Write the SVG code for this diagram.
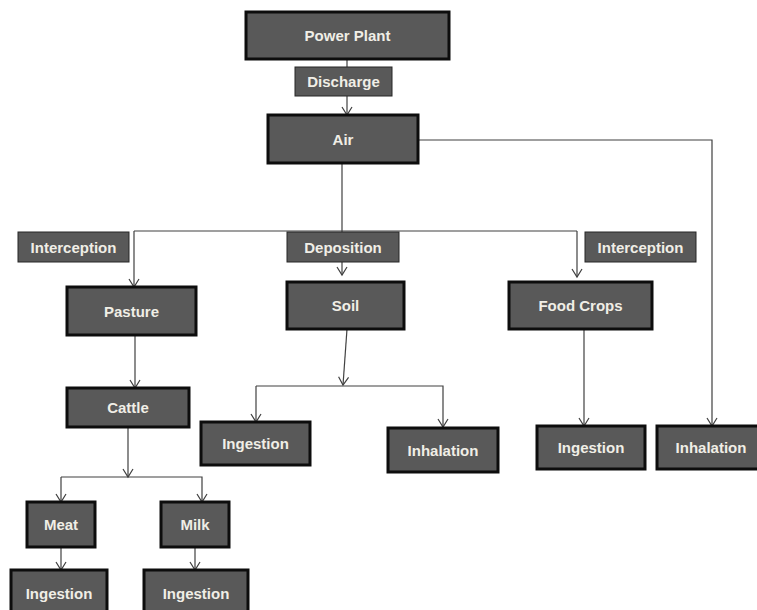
<svg xmlns="http://www.w3.org/2000/svg" width="757" height="610" viewBox="0 0 757 610">
<defs>
<style>
.n rect{fill:#595959;stroke:#0d0d0d;stroke-width:3}
.l rect{fill:#595959;stroke:#262626;stroke-width:1}
text{font-family:"Liberation Sans",Arial,sans-serif;font-weight:bold;font-size:15px;fill:#f0eee6;text-anchor:middle;dominant-baseline:central}
.c path{fill:none;stroke:#404040;stroke-width:1.2}
</style>
<marker id="a" markerUnits="userSpaceOnUse" markerWidth="12" markerHeight="12" refX="10" refY="5" orient="auto" viewBox="0 0 12 10">
<path d="M2,0 L10,5 L2,10" fill="none" stroke="#404040" stroke-width="1.2"/>
</marker>
</defs>
<rect width="757" height="610" fill="#fff"/>
<g class="c" id="connectors">
<path d="M347,59 V115" marker-end="url(#a)"/>
<path d="M418,140 H712 V426" stroke="#7f7f7f" marker-end="url(#a)"/>
<path d="M342,163 V231"/>
<path d="M134,231 H577"/>
<path d="M134,231 V287" marker-end="url(#a)"/>
<path d="M342,231 V275" marker-end="url(#a)"/>
<path d="M577,231 V277" marker-end="url(#a)"/>
<path d="M135,335 V388" marker-end="url(#a)"/>
<path d="M347,329 L343,385" marker-end="url(#a)"/>
<path d="M256,386 H443 V427" marker-end="url(#a)"/>
<path d="M256,386 V422" marker-end="url(#a)"/>
<path d="M584,329 V426" marker-end="url(#a)"/>
<path d="M128,427 V477" marker-end="url(#a)"/>
<path d="M61,477 H202 V502" marker-end="url(#a)"/>
<path d="M61,477 V502" marker-end="url(#a)"/>
<path d="M61,547 V570" marker-end="url(#a)"/>
<path d="M195,547 V570" marker-end="url(#a)"/>
</g>
<g class="n" id="power-plant"><rect x="246" y="12" width="203" height="47"/><text x="347.5" y="35.5">Power Plant</text></g>
<g class="l" id="discharge"><rect x="295" y="67" width="97" height="29"/><text x="343.5" y="81.5">Discharge</text></g>
<g class="n" id="air"><rect x="268" y="115" width="150" height="48"/><text x="343" y="139">Air</text></g>
<g class="l" id="interception-left"><rect x="18" y="232" width="111" height="30"/><text x="73.5" y="247">Interception</text></g>
<g class="l" id="deposition"><rect x="287" y="232" width="112" height="30"/><text x="343" y="247">Deposition</text></g>
<g class="l" id="interception-right"><rect x="585" y="232" width="111" height="30"/><text x="640.5" y="247">Interception</text></g>
<g class="n" id="pasture"><rect x="67" y="287" width="129" height="48"/><text x="131.5" y="311">Pasture</text></g>
<g class="n" id="soil"><rect x="287" y="282" width="117" height="47"/><text x="345.5" y="305.5">Soil</text></g>
<g class="n" id="food-crops"><rect x="509" y="282" width="143" height="47"/><text x="580.5" y="305.5">Food Crops</text></g>
<g class="n" id="cattle"><rect x="67" y="388" width="122" height="39"/><text x="128" y="407.5">Cattle</text></g>
<g class="n" id="soil-ingestion"><rect x="201" y="422" width="109" height="43"/><text x="255.5" y="443.5">Ingestion</text></g>
<g class="n" id="soil-inhalation"><rect x="388" y="428" width="110" height="44"/><text x="443" y="450">Inhalation</text></g>
<g class="n" id="crops-ingestion"><rect x="537" y="426" width="108" height="43"/><text x="591" y="447.5">Ingestion</text></g>
<g class="n" id="air-inhalation"><rect x="657" y="426" width="110" height="43"/><text x="711" y="447.5">Inhalation</text></g>
<g class="n" id="meat"><rect x="27" y="502" width="68" height="45"/><text x="61" y="524.5">Meat</text></g>
<g class="n" id="milk"><rect x="161" y="502" width="68" height="45"/><text x="195" y="524.5">Milk</text></g>
<g class="n" id="meat-ingestion"><rect x="11" y="570" width="96" height="46"/><text x="59" y="593">Ingestion</text></g>
<g class="n" id="milk-ingestion"><rect x="144" y="570" width="104" height="46"/><text x="196" y="593">Ingestion</text></g>
</svg>
